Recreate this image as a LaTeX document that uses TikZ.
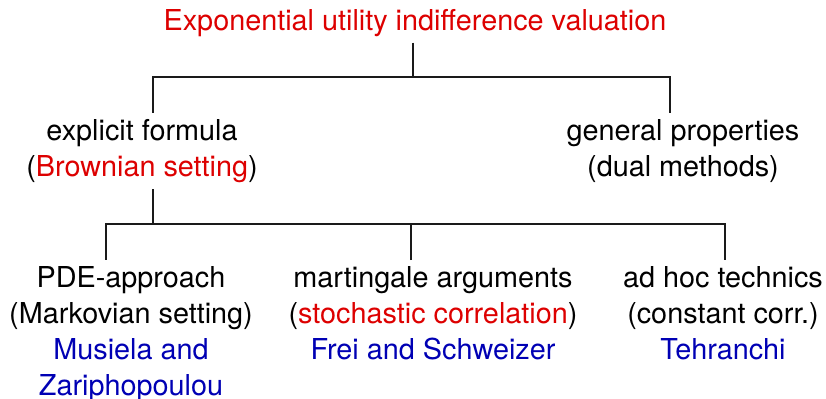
\documentclass[tikz,border=0pt]{standalone}
\usepackage{fontspec}
\setmainfont{TeX Gyre Heros}
\usepackage{tikz}
\usetikzlibrary{positioning, calc}
\definecolor{hred}{HTML}{DD0000}
\definecolor{refblue}{HTML}{0000B4}
\definecolor{linegray}{HTML}{1A1A1A}
\tikzset{
  nd/.style={font=\fontsize{14.4}{18}\selectfont, align=center, text=black,
    inner xsep=2pt, inner ysep=3pt},
  ndh/.style={nd, text=hred},
  link/.style={draw=linegray, line width=0.6pt},
}
\begin{document}
\begin{tikzpicture}[x=0.5pt, y=-0.5pt]
  \useasboundingbox (0,0) rectangle (826,398);
  \node[ndh, anchor=base] (val) at (415,30) {Exponential utility indifference valuation};
  \node[nd, anchor=north] (expl) at (142,113) {explicit formula\\(\textcolor{hred}{Brownian setting})};
  \node[nd, anchor=north] (gen) at (683,113) {general properties\\(dual methods)};
  \node[nd, anchor=north] (pde) at (131,260) {PDE-approach\\(Markovian setting)\\\textcolor{refblue}{Musiela and}\\\textcolor{refblue}{Zariphopoulou}};
  \node[nd, anchor=north] (mart) at (433,260) {martingale arguments\\(\textcolor{hred}{stochastic correlation})\\\textcolor{refblue}{Frei and Schweizer}};
  \node[nd, anchor=north] (tech) at (723,260) {ad hoc technics\\(constant corr.)\\\textcolor{refblue}{Tehranchi}};
  \coordinate (j1) at (413,77);
  \coordinate (j2) at (153,224);
  \draw[link] (val.south -| j1) -- (j1);
  \draw[link] (j1) -| (expl.north -| j2);
  \draw[link] (j1) -| ([xshift=-6.5pt]gen.north);
  \draw[link] (expl.south -| j2) -- (j2);
  \draw[link] (j2) -| ([xshift=-12.5pt]pde.north);
  \draw[link] (j2) -| ([xshift=1pt]tech.north);
  \draw[link] ([xshift=-11pt]mart.north) -- ([xshift=-11pt]mart.north |- j2);
\end{tikzpicture}
\end{document}
